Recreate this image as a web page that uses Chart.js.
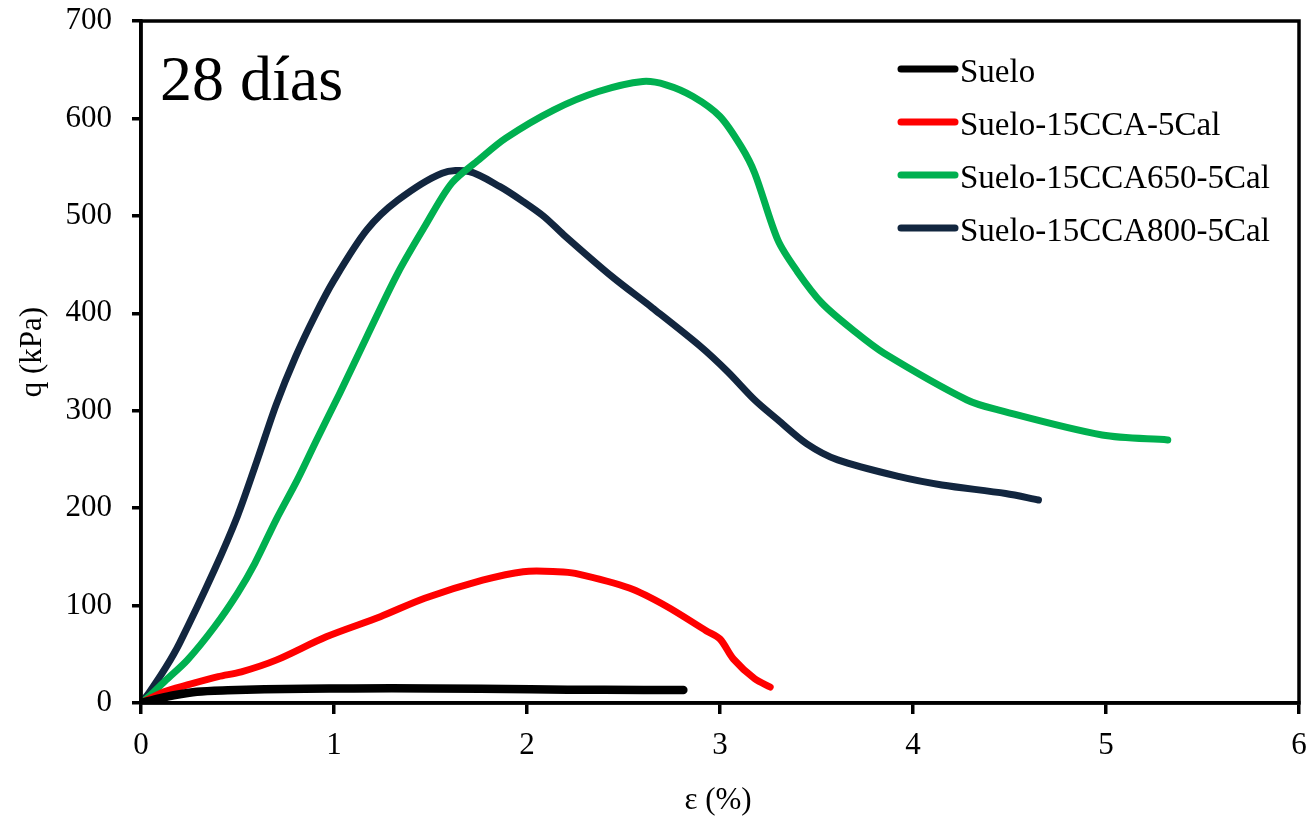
<!DOCTYPE html>
<html>
<head>
<meta charset="utf-8">
<script src="https://cdn.jsdelivr.net/npm/chart.js@4"></script>
<style>
    html, body { margin: 0; padding: 0; background: #fff; }
    #wrap { width: 1308px; height: 819px; }
</style>
</head>
<body>
<div id="wrap"><canvas id="qChart" width="1308" height="819"></canvas></div>
<script>
// Curve data (x = strain %, y = q kPa)
const sueloX = [0, 0.1, 0.17, 0.29, 0.45, 0.64, 0.85, 1.1, 1.5, 2.02, 2.4, 2.81];
const sueloY = [0, 5, 8, 11.5, 13, 14, 14.5, 15, 15, 14, 13.5, 13.3];

const ccaX = [0, 0.12, 0.24, 0.40, 0.52, 0.70, 0.96, 1.24, 1.47, 1.77, 1.98, 2.16, 2.25, 2.53, 2.72, 2.93, 3.0, 3.07, 3.18, 3.26];
const ccaY = [0, 11.6, 18.5, 27, 32, 44, 68, 88.6, 107.5, 126, 134.8, 134.8, 133, 118, 99.6, 74, 65.7, 45, 24.8, 16.4];

const cca650X = [0, 0.04, 0.13, 0.24, 0.38, 0.50, 0.59, 0.70, 0.81, 0.91, 1.03, 1.17, 1.33, 1.47, 1.61, 1.75, 1.89, 2.14, 2.37, 2.60, 2.72, 2.86, 3.0, 3.11, 3.18, 3.30, 3.40, 3.53, 3.70, 3.85, 4.28, 4.44, 4.98, 5.32];
const cca650Y = [0, 6.5, 23.6, 44, 78, 112.6, 143.4, 188, 229, 270, 318, 376, 441, 489, 533.6, 557.5, 579.8, 608.8, 627.6, 637.9, 634.5, 622.5, 602, 571, 543.8, 475, 443, 410, 381, 359, 311, 300.8, 275, 270];

const cca800X = [0, 0.04, 0.13, 0.2, 0.38, 0.5, 0.6, 0.7, 0.8, 0.9, 1.0, 1.17, 1.33, 1.56, 1.70, 1.86, 1.98, 2.09, 2.19, 2.44, 2.65, 2.90, 3.04, 3.18, 3.30, 3.45, 3.61, 3.93, 4.15, 4.48, 4.65];
const cca800Y = [0, 10, 37, 61.5, 136.5, 192, 248, 306, 355, 397, 434, 485.6, 516, 543.8, 545.5, 530, 514.7, 499, 480.5, 437.7, 405.5, 365.8, 340, 311, 290.6, 266, 249.5, 232.3, 223.8, 215, 208.4];

const seriesNames = ['Suelo', 'Suelo-15CCA-5Cal', 'Suelo-15CCA650-5Cal', 'Suelo-15CCA800-5Cal'];
const seriesColors = ['#000000', '#ff0000', '#00b050', '#12263f'];
const xTicks = [0, 1, 2, 3, 4, 5, 6];
const yTicks = [0, 100, 200, 300, 400, 500, 600, 700];

const serif = "'Liberation Serif', 'Times New Roman', serif";

function toPoints(xs, ys) {
    return xs.map((x, i) => ({ x: x, y: ys[i] }));
}

const allX = [sueloX, ccaX, cca650X, cca800X];
const allY = [sueloY, ccaY, cca650Y, cca800Y];
const widths = [8.5, 7, 7, 7];

const datasets = seriesNames.map((name, i) => ({
    label: name,
    data: toPoints(allX[i], allY[i]),
    borderColor: seriesColors[i],
    backgroundColor: seriesColors[i],
    borderWidth: widths[i],
    borderCapStyle: 'round',
    borderJoinStyle: 'round',
    showLine: true,
    pointRadius: 0,
    tension: 0.3,
    fill: false
}));

// frame, annotation text, axis titles and legend inside the plot
const decorPlugin = {
    id: 'decor',
    afterDraw(chart) {
        const ctx = chart.ctx;
        const a = chart.chartArea;
        ctx.save();
        ctx.strokeStyle = '#000';
        ctx.lineWidth = 3.5;
        ctx.strokeRect(a.left, a.top, a.right - a.left, a.bottom - a.top);

        ctx.fillStyle = '#000';
        ctx.font = '64px ' + serif;
        ctx.textAlign = 'left';
        ctx.textBaseline = 'alphabetic';
        ctx.fillText('28 días', 160, 100);

        // axis titles
        ctx.font = '31px ' + serif;
        ctx.textAlign = 'center';
        ctx.textBaseline = 'middle';
        ctx.fillText('ε (%)', 718, 801);
        ctx.save();
        ctx.translate(33, 352);
        ctx.rotate(-Math.PI / 2);
        ctx.fillText('q (kPa)', 0, 0);
        ctx.restore();

        // legend
        ctx.font = '33px ' + serif;
        ctx.textAlign = 'left';
        ctx.textBaseline = 'alphabetic';
        ctx.lineCap = 'round';
        chart.data.datasets.forEach((ds, i) => {
            const y = 69 + i * 53;
            ctx.strokeStyle = ds.borderColor;
            ctx.lineWidth = 7;
            ctx.beginPath();
            ctx.moveTo(901, y);
            ctx.lineTo(955, y);
            ctx.stroke();
            ctx.fillText(ds.label, 960, y + 13);
        });
        ctx.restore();
    }
};

const ctx = document.getElementById('qChart').getContext('2d');
const qChart = new Chart(ctx, {
    type: 'scatter',
    data: { datasets: datasets },
    options: {
        responsive: false,
        animation: false,
        layout: { padding: { top: 21, right: 9, left: 0, bottom: 0 } },
        plugins: {
            legend: { display: false },
            tooltip: { enabled: false }
        },
        scales: {
            x: {
                type: 'linear',
                min: 0,
                max: 6,
                afterFit(scale) {
                    scale.height = 116;
                    scale.paddingLeft = 0;
                    scale.paddingRight = 0;
                },
                afterBuildTicks(scale) { scale.ticks = xTicks.map(v => ({ value: v })); },
                grid: { drawOnChartArea: false, drawTicks: true, tickLength: 11, color: '#000', lineWidth: 3.5 },
                border: { display: true, color: '#000', width: 3.5 },
                ticks: { font: { family: serif, size: 31 }, color: '#000', padding: 13, maxRotation: 0 }
            },
            y: {
                type: 'linear',
                min: 0,
                max: 700,
                afterFit(scale) {
                    scale.width = 141;
                    scale.paddingTop = 0;
                    scale.paddingBottom = 0;
                },
                afterBuildTicks(scale) { scale.ticks = yTicks.map(v => ({ value: v })); },
                grid: { drawOnChartArea: false, drawTicks: true, tickLength: 9, color: '#000', lineWidth: 3.5 },
                border: { display: true, color: '#000', width: 3.5 },
                ticks: { font: { family: serif, size: 31 }, color: '#000', padding: 20 }
            }
        }
    },
    plugins: [decorPlugin]
});
</script>
</body>
</html>
